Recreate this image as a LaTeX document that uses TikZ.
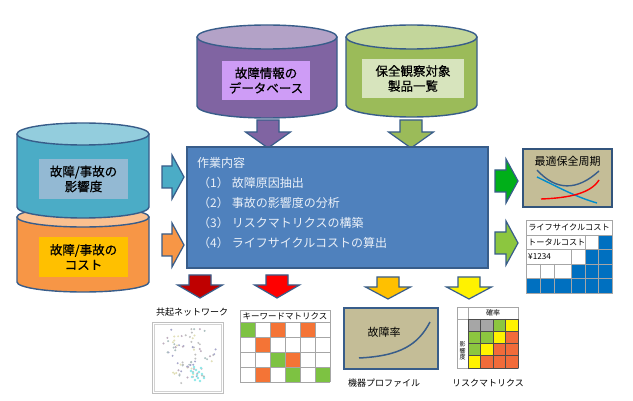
\documentclass[tikz,border=0pt]{standalone}
\usepackage{fontspec}
\setmainfont{Noto Sans CJK JP}
\newfontfamily\jpmed[FakeBold=0.6]{Noto Sans CJK JP}
\definecolor{outl}{HTML}{385D8A}
\definecolor{purpB}{HTML}{8064A2}
\definecolor{purpT}{HTML}{B3A2C7}
\definecolor{purpX}{HTML}{CE9CF6}
\definecolor{grnB}{HTML}{9BBB59}
\definecolor{grnT}{HTML}{C3D69B}
\definecolor{grnX}{HTML}{D7E4BD}
\definecolor{bluB}{HTML}{4BACC6}
\definecolor{bluT}{HTML}{93CDDD}
\definecolor{bluX}{HTML}{93B9D3}
\definecolor{orgB}{HTML}{F79646}
\definecolor{orgT}{HTML}{FAC090}
\definecolor{orgX}{HTML}{FFC000}
\definecolor{mainB}{HTML}{4F81BD}
\definecolor{tan}{HTML}{C4BD97}
\definecolor{lccB}{HTML}{0070C0}
\definecolor{kmG}{HTML}{7DC242}
\definecolor{kmO}{HTML}{F47436}
\definecolor{rmY}{HTML}{FFF200}
\definecolor{rmG}{HTML}{8CC63F}
\definecolor{rmO}{HTML}{F26B3A}
\definecolor{rmS}{HTML}{A6A6A6}
\definecolor{txtW}{HTML}{EAF0F8}
\tikzset{
  cylline/.style={draw=outl, line width=1.4pt},
  arrowsty/.style={draw=outl, line width=1.2pt, line join=miter},
  cyltext/.style={align=center, font=\jpmed\fontsize{12.5}{15}\selectfont, text=black, inner sep=0pt},
  worktext/.style={anchor=base west, font=\fontsize{12}{14}\selectfont, text=txtW, inner sep=0pt},
  smalllabel/.style={font=\fontsize{9}{10}\selectfont, text=black, inner sep=0pt},
  gridline/.style={draw=gray!70, line width=0.6pt},
}
% cylinder: x1, x2, ytop, ybottom, ry, body, top
\newcommand\mycyl[7]{%
  \fill[#6] (#1,#3) -- (#1,#4) arc[start angle=180, end angle=0, x radius={(#2-#1)/2}, y radius=#5] -- (#2,#3) -- cycle;
  \draw[cylline] (#1,#3) -- (#1,#4) arc[start angle=180, end angle=0, x radius={(#2-#1)/2}, y radius=#5] -- (#2,#3);
  \draw[cylline, fill=#7] ({(#1+#2)/2},#3) ellipse[x radius={(#2-#1)/2}, y radius=#5];
}
% down arrow: cx, ytop, ymid, ybot, fill
\newcommand\mydnarrow[5]{%
  \draw[arrowsty, fill=#5] (#1-11,#2) -- (#1+11,#2) -- (#1+11,#3) -- (#1+22.5,#3) -- (#1,#4) -- (#1-22.5,#3) -- (#1-11,#3) -- cycle;
}
% right arrow: cy, xleft, xmid, xright, fill
\newcommand\myrtarrow[5]{%
  \draw[arrowsty, fill=#5] (#2,#1-11) -- (#3,#1-11) -- (#3,#1-22) -- (#4,#1) -- (#3,#1+22) -- (#3,#1+11) -- (#2,#1+11) -- cycle;
}
\begin{document}
\begin{tikzpicture}[x=1pt,y=-1pt]
\useasboundingbox (0,0) rectangle (633,401);
\fill[white] (0,0) rectangle (633,401);

% ---------- top cylinders ----------
\mycyl{197}{337}{37}{106}{12}{purpB}{purpT}
\fill[purpX] (222,61) rectangle (310,100);
\node[cyltext] (db) at (266,80.5) {故障情報の\\データベース};

\mycyl{346}{477}{37}{105}{12}{grnB}{grnT}
\fill[grnX] (362,59) rectangle (464,98);
\node[cyltext] (prod) at (413,78.5) {保全観察対象\\製品一覧};

% ---------- left cylinders ----------
\mycyl{17}{149}{217}{282}{10}{orgB}{orgT}
\mycyl{17}{149}{134}{207}{11}{bluB}{bluT}
\fill[bluX] (39,159) rectangle (128,199);
\node[cyltext] (impact) at (83.5,179) {故障/事故の\\影響度};
\fill[orgX] (39,237) rectangle (128,277);
\node[cyltext] (cost) at (83.5,257) {故障/事故の\\コスト};

% ---------- arrows into main box ----------
\mydnarrow{268}{120}{132}{148}{purpB}
\mydnarrow{411}{120}{132}{148}{grnB}
\myrtarrow{177}{162}{172}{184}{bluB}
\myrtarrow{245}{162}{172}{184}{orgB}

% ---------- main box ----------
\node[draw=outl, line width=2pt, fill=mainB, minimum width=301pt, minimum height=121pt, inner sep=0pt] (work) at (337.5,207.5) {};
\node[worktext] (w0) at (197,168) {作業内容};
\node[worktext] (w1) at (198,188) {（1）\hspace{3pt}故障原因抽出};
\node[worktext] (w2) at (198,208) {（2）\hspace{3pt}事故の影響度の分析};
\node[worktext] (w3) at (198,228) {（3）\hspace{3pt}リスクマトリクスの構築};
\node[worktext] (w4) at (198,248) {（4）\hspace{3pt}ライフサイクルコストの算出};

% ---------- right arrows ----------
\myrtarrow{181}{495}{506}{518}{green!65!black!90!cyan}
\myrtarrow{243}{495}{506}{518}{rmG}

% ---------- optimum maintenance period ----------
\node[draw=outl!90!black, line width=1.5pt, fill=tan, minimum width=89pt, minimum height=58pt, inner sep=0pt] (opt) at (567.5,178) {};
\node[font=\fontsize{11}{12}\selectfont, inner sep=0pt] (optt) at (567.5,161) {最適保全周期};
\draw[line width=1.4pt, color=outl] (537,170) .. controls (556,191) and (577,191) .. (599,171);
\draw[line width=1.4pt, color=lccB!80!cyan] (537,177) .. controls (560,188) and (576,197) .. (597,203);
\draw[line width=1.4pt, color=red] (541,199) .. controls (570,198) and (591,193) .. (599,180);

% ---------- life cycle cost table ----------
\fill[white] (526,220) rectangle (612,293);
\fill[lccB] (598,235) rectangle (612,249.5);
\fill[lccB] (585,249.5) rectangle (612,264);
\fill[lccB] (571,264) rectangle (612,278.5);
\fill[lccB] (526,278.5) rectangle (612,293);
\draw[gridline] (526,220) rectangle (612,293);
\draw[gridline] (526,235) -- (612,235);
\draw[gridline] (526,249.5) -- (612,249.5);
\draw[gridline] (526,264) -- (612,264);
\draw[gridline] (526,278.5) -- (612,278.5);
\draw[gridline] (585,235) -- (585,293);
\draw[gridline] (598,235) -- (598,293);
\draw[gridline] (571,249.5) -- (571,293);
\draw[gridline] (540.3,264) -- (540.3,293);
\draw[gridline] (554.6,264) -- (554.6,293);
\node[font=\fontsize{8.2}{9}\selectfont, inner sep=0pt] (lcch) at (569,227.5) {ライフサイクルコスト};
\node[font=\fontsize{8.2}{9}\selectfont, inner sep=0pt, anchor=west] (lcct) at (528,242.3) {トータルコスト};
\node[font=\fontsize{8.2}{9}\selectfont, inner sep=0pt, anchor=west] (lccv) at (528,256.8) {¥1234};

% ---------- bottom arrows ----------
\mydnarrow{200}{275}{285}{298}{red!75!black}
\mydnarrow{277}{275}{285}{298}{red}
\mydnarrow{388}{277}{287}{299}{orgX}
\mydnarrow{469}{277}{287}{299}{yellow}

% ---------- co-occurrence network ----------
\node[smalllabel] (netl) at (192,312) {共起ネットワーク};
\draw[gray!50, fill=white, line width=0.8pt] (152,322) rectangle (223,393);
\draw[gray!35, line width=0.5pt] (154,324) rectangle (221,391);
\pgfmathsetseed{11}
\foreach \i in {1,...,80} {
  \pgfmathsetmacro\ang{rnd*360}
  \pgfmathsetmacro\rad{8+rnd*22}
  \pgfmathsetmacro\cc{int(mod(\i,5))}
  \ifcase\cc
    \def\dotc{gray!50}\or\def\dotc{blue!25!gray!55}\or\def\dotc{yellow!40!gray!45}\or\def\dotc{teal!30!gray!50}\else\def\dotc{violet!25!gray!50}\fi
  \fill[\dotc] ({187+\rad*cos(\ang)},{354+\rad*sin(\ang)}) circle (1.1);
}
\foreach \dx/\dy in {0/0,3/2,-3/3,1/5,5/-2,-2/-3,6/4,-5/1,2/8,-1/10,4/11,8/8,-4/7} {
  \fill[teal!40!cyan!45] ({196+\dx},{370+\dy}) circle (1.3);
}

% ---------- keyword matrix ----------
\draw[gridline, fill=white] (240,310) rectangle (330,322);
\node[font=\fontsize{8.5}{9}\selectfont, inner sep=0pt] (kmh) at (285,316) {キーワードマトリクス};
\foreach \c/\r/\col in {0/0/kmG,2/0/kmO,4/0/kmO,1/1/kmO,2/2/kmG,3/2/kmO,1/3/kmO,3/3/kmG,5/3/kmG} {
  \fill[\col] ({240+15*\c},{322+15*\r}) rectangle ({255+15*\c},{337+15*\r});
}
\foreach \c in {0,...,6} { \draw[gridline] ({240+15*\c},322) -- ({240+15*\c},382); }
\foreach \r in {0,...,4} { \draw[gridline] (240,{322+15*\r}) -- (330,{322+15*\r}); }

% ---------- equipment profile ----------
\node[draw=outl, line width=1.6pt, fill=tan, minimum width=94pt, minimum height=61pt, inner sep=0pt] (prof) at (391,338.5) {};
\node[font=\fontsize{11}{12}\selectfont, inner sep=0pt] (proft) at (384,332) {故障率};
\draw[line width=1.5pt, color=outl] (359,358) .. controls (400,356) and (418,345) .. (430,322);
\node[smalllabel] (profl) at (384,383) {機器プロファイル};

% ---------- risk matrix ----------
\draw[gridline, fill=white] (457,307) rectangle (518,368);
\draw[gridline] (468,307) -- (468,368);
\draw[gridline] (457,319) -- (518,319);
\node[font=\fontsize{7}{8}\selectfont, inner sep=0pt] (rmh) at (493,313) {確率};
\node[font=\fontsize{6}{6.5}\selectfont, inner sep=0pt, align=center] (rml) at (462.5,351) {影\\響\\度};
\foreach \c/\r/\col in {0/0/rmS,1/0/rmS,2/0/rmG,3/0/rmY,
                        0/1/rmG,1/1/rmG,2/1/rmY,3/1/rmO,
                        0/2/rmG,1/2/rmY,2/2/rmO,3/2/rmO,
                        0/3/rmY,1/3/rmO,2/3/rmO,3/3/rmO} {
  \fill[\col] ({468+12.5*\c},{319+12.25*\r}) rectangle ({480.5+12.5*\c},{331.25+12.25*\r});
}
\foreach \c in {0,...,4} { \draw[gray!60!black, line width=0.6pt] ({468+12.5*\c},319) -- ({468+12.5*\c},368); }
\foreach \r in {0,...,4} { \draw[gray!60!black, line width=0.6pt] (468,{319+12.25*\r}) -- (518,{319+12.25*\r}); }
\node[smalllabel] (rml2) at (488,383) {リスクマトリクス};
\end{tikzpicture}
\end{document}
